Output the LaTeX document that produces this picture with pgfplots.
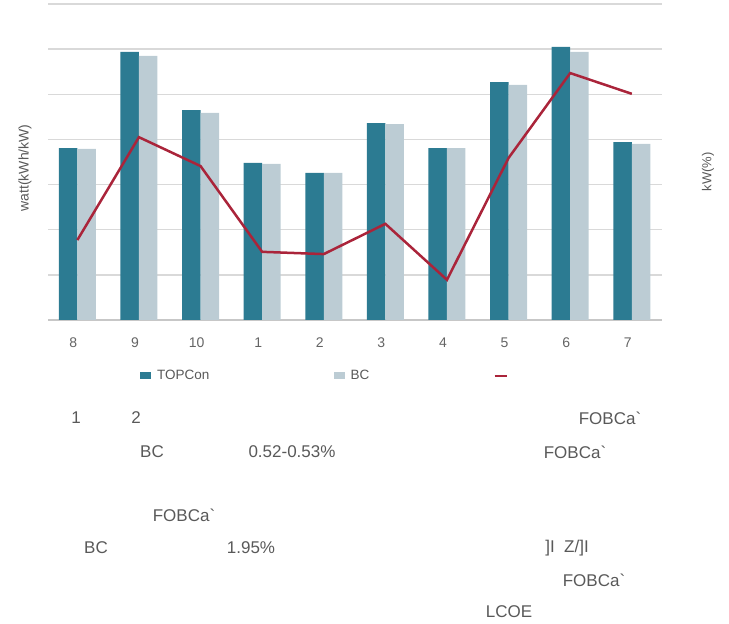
\documentclass[border=0pt]{standalone}
\usepackage{fontspec}
\setmainfont{Liberation Sans}
\usepackage{pgfplots}
\pgfplotsset{compat=1.18}
\definecolor{topcon}{RGB}{44,123,146}
\definecolor{bccol}{RGB}{188,204,212}
\definecolor{lncol}{RGB}{170,36,58}
\definecolor{txtgray}{RGB}{89,89,89}
\definecolor{tickgray}{RGB}{100,100,100}
\definecolor{gridgray}{RGB}{217,217,217}

\begin{document}
\begin{tikzpicture}
\path[use as bounding box] (0,0) rectangle (729pt,624pt);
\begin{axis}[
    at={(48pt,304pt)}, anchor=south west,
    scale only axis, width=614pt, height=316pt,
    xmin=-0.476, xmax=9.49, ymin=0, ymax=7,
    ybar=0pt, bar width=18.5pt,
    xtick={0,...,9},
    xticklabels={8,9,10,1,2,3,4,5,6,7},
    ytick={1,...,7}, yticklabels={},
    extra y ticks={0}, extra y tick labels={},
    extra y tick style={grid style={color=black!22, line width=2pt}},
    ymajorgrids, grid style={color=gridgray, line width=1.4pt},
    axis line style={draw=none},
    major tick length=0pt,
    /pgf/number format/assume math mode=true,
    xticklabel style={font=\fontsize{14}{16}\selectfont, text=tickgray, xshift=-4pt, yshift=-14pt},
    legend style={at={(0.145,-0.177)}, anchor=west, draw=none, fill=none,
      legend columns=3, font=\fontsize{13.5}{15}\selectfont, text=txtgray,
      /tikz/every even column/.append style={column sep=122pt}},
    ]
\addplot[fill=topcon, draw=none,
  legend image code/.code={\fill[topcon] (0pt,-3.5pt) rectangle (11pt,3.5pt);}]
  coordinates {(0,3.81) (1,5.94) (2,4.65) (3,3.48) (4,3.26) (5,4.36) (6,3.81) (7,5.27) (8,6.05) (9,3.94)};
\addlegendentry{\hspace*{4pt}TOPCon}
\addplot[fill=bccol, draw=none,
  legend image code/.code={\fill[bccol] (0pt,-3.5pt) rectangle (11pt,3.5pt);}]
  coordinates {(0,3.79) (1,5.85) (2,4.59) (3,3.46) (4,3.26) (5,4.34) (6,3.81) (7,5.21) (8,5.94) (9,3.90)};
\addlegendentry{\hspace*{4pt}BC}
\addplot[sharp plot, color=lncol, line width=2.5pt, mark=none,
  legend image code/.code={\draw[lncol, line width=2.8pt] (0pt,0pt) -- (12pt,0pt);}]
  coordinates {(0,1.77) (1,4.05) (2,3.41) (3,1.51) (4,1.46) (5,2.13) (6,0.89) (7,3.59) (8,5.47) (9,5.01)};
\addlegendentry{}
\end{axis}

% axis titles
\node[rotate=90, font=\fontsize{14}{16}\selectfont, text=txtgray] at (25pt,456pt) {watt(kWh/kW)};
\node[rotate=90, font=\fontsize{13}{15}\selectfont, text=txtgray] at (708pt,452pt) {kW(\%)};

% text below the chart
\begin{scope}[every node/.style={font=\fontsize{17}{20}\selectfont, text=txtgray}]
\node at (76pt,206pt) {1};
\node at (136pt,206pt) {2};
\node at (610pt,206pt) {FOBCa\textasciigrave};
\node at (152pt,172pt) {BC};
\node at (292pt,172pt) {0.52-0.53\%};
\node at (575pt,172pt) {FOBCa\textasciigrave};
\node at (184pt,109pt) {FOBCa\textasciigrave};
\node at (96pt,76pt) {BC};
\node at (251pt,76pt) {1.95\%};
\node at (567pt,76pt) {]I~~Z/]I};
\node at (594pt,44pt) {FOBCa\textasciigrave};
\node at (509pt,12pt) {LCOE};
\end{scope}
\end{tikzpicture}
\end{document}
